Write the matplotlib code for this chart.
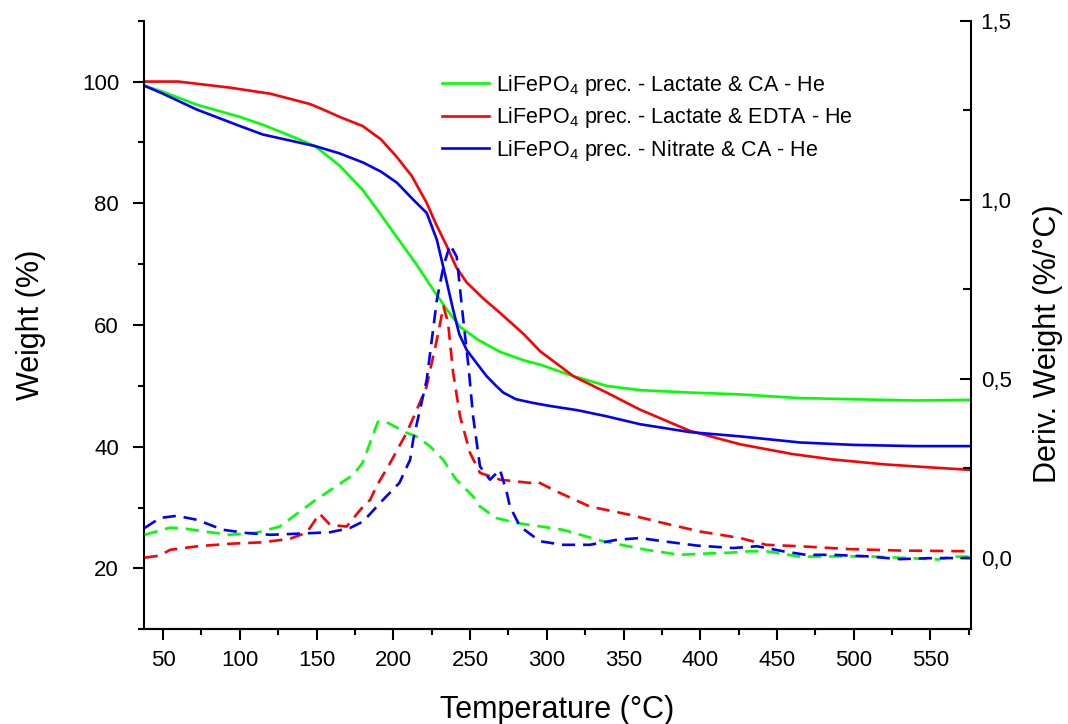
import matplotlib
matplotlib.use("Agg")
import matplotlib.pyplot as plt
from matplotlib.ticker import MultipleLocator, FuncFormatter

plt.rcParams['font.family'] = ['Liberation Sans', 'DejaVu Sans']
plt.rcParams['mathtext.fontset'] = 'custom'
plt.rcParams['mathtext.rm'] = 'Liberation Sans'
plt.rcParams['mathtext.it'] = 'Liberation Sans:italic'

# ---- data: weight curves (solid) ----
t_w_green = [38, 50, 72, 100, 115, 130, 149, 165, 180, 190, 202.7, 215, 226, 235, 243.5, 255,
             269.5, 285, 295.6, 317.3, 339, 360.7, 393.3, 426, 464, 500, 540, 576]
w_green = [99.3, 98.3, 96.2, 94.2, 92.9, 91.4, 89.4, 86.2, 82.2, 78.8, 74.3, 70.0, 65.8, 62.5, 59.7, 57.6,
           55.6, 54.2, 53.5, 51.6, 50.0, 49.3, 48.9, 48.6, 48.0, 47.8, 47.6, 47.7]

t_w_red = [38, 60, 93.6, 120, 145.8, 153.4, 165, 180, 192, 202, 212, 221.7, 228, 234.8, 241, 247.8,
           258, 269.5, 285, 295.6, 317.3, 339, 360.7, 393.3, 426, 460, 486.5, 520, 550, 576]
w_red = [100.0, 100.0, 99.0, 98.0, 96.3, 95.5, 94.2, 92.7, 90.5, 87.7, 84.5, 80.1, 76.5, 73.0, 69.5, 67.0,
         64.5, 62.0, 58.5, 55.7, 51.6, 48.9, 46.1, 42.6, 40.4, 38.8, 37.9, 37.1, 36.6, 36.2]

t_w_blue = [38, 50, 72, 100, 115, 149, 165, 180.3, 192, 202.3, 213, 221.8, 228.4, 234, 239, 243, 247.8,
            255, 260.8, 267, 271.6, 280, 291, 302, 320, 339, 360.7, 393.3, 426, 465, 500, 540, 576]
w_blue = [99.3, 98.0, 95.4, 92.7, 91.3, 89.4, 88.2, 86.7, 85.2, 83.4, 80.6, 78.4, 74.0, 68.0, 62.5, 58.5, 55.9,
          53.5, 51.6, 50.0, 48.9, 47.8, 47.2, 46.7, 46.0, 45.0, 43.7, 42.4, 41.7, 40.7, 40.3, 40.1, 40.1]

# ---- data: derivative curves (dashed) ----
t_d_green = [38, 54.6, 63, 82.6, 93.6, 111, 126, 148, 174, 180, 190, 195, 208.7, 215, 224, 232.4, 241,
             252, 256.5, 267, 280.4, 310.6, 336.6, 365, 386.8, 400, 419, 432, 443, 465, 508, 530, 555, 565, 576]
d_green = [0.064, 0.084, 0.082, 0.070, 0.064, 0.070, 0.087, 0.157, 0.232, 0.265, 0.38, 0.38, 0.349, 0.339,
           0.311, 0.274, 0.218, 0.171, 0.143, 0.111, 0.097, 0.078, 0.046, 0.022, 0.008, 0.011, 0.014, 0.018,
           0.018, 0.003, 0.004, 0.0, -0.005, 0.003, 0.003]

t_d_red = [38, 48, 54.6, 72.6, 93.6, 115, 132.7, 143.6, 152, 158.8, 169.6, 180.3, 185, 189, 198, 208.7,
           215, 221.7, 228.4, 232.7, 235.7, 239, 243.5, 250, 256.5, 269.5, 289, 293.5, 306.5, 328, 354,
           375.7, 400, 426, 443, 465, 497.6, 530, 576]
d_red = [0.0, 0.006, 0.022, 0.032, 0.039, 0.043, 0.053, 0.07, 0.123, 0.092, 0.087, 0.143, 0.162, 0.199,
         0.265, 0.349, 0.41, 0.478, 0.609, 0.702, 0.656, 0.517, 0.395, 0.293, 0.237, 0.218, 0.209, 0.213,
         0.185, 0.143, 0.12, 0.097, 0.073, 0.055, 0.036, 0.032, 0.024, 0.02, 0.018]

t_d_blue = [38, 48, 59, 72, 89, 104.5, 120, 137, 158.8, 171.8, 180.3, 193.4, 204, 211, 213, 221.8, 228.4,
            232.7, 237, 241.3, 245.6, 249, 252, 256.5, 263, 269.5, 274, 276, 282.6, 295.6, 310.6, 328,
            345.6, 360.7, 375.7, 397.6, 421.5, 437, 454, 469, 486.5, 508, 530, 551.6, 576]
d_blue = [0.083, 0.111, 0.117, 0.106, 0.078, 0.069, 0.064, 0.067, 0.071, 0.083, 0.101, 0.162, 0.209, 0.274,
          0.33, 0.497, 0.72, 0.814, 0.874, 0.841, 0.665, 0.534, 0.395, 0.255, 0.218, 0.246, 0.181, 0.143,
          0.087, 0.046, 0.036, 0.036, 0.05, 0.055, 0.046, 0.034, 0.027, 0.032, 0.018, 0.008, 0.008, 0.004,
          -0.004, -0.001, -0.001]

labels = [r'LiFePO$_\mathregular{4}$ prec. - Lactate & CA - He',
          r'LiFePO$_\mathregular{4}$ prec. - Lactate & EDTA - He',
          r'LiFePO$_\mathregular{4}$ prec. - Nitrate & CA - He']
colors = ['#00ff00', '#ff0000', '#0000ff']

fig = plt.figure(figsize=(10.68, 7.24), dpi=100)
ax = fig.add_axes([144 / 1068, 1 - 629.3 / 724, (971 - 144) / 1068, (629.3 - 20.7) / 724])
ax2 = ax.twinx()

lw = 1.9
lg, = ax.plot(t_w_green, w_green, color=colors[0], lw=lw)
lr, = ax.plot(t_w_red, w_red, color=colors[1], lw=lw)
lb, = ax.plot(t_w_blue, w_blue, color=colors[2], lw=lw)

dash = (5, 3)
ax2.plot(t_d_green, d_green, color=colors[0], lw=lw, dashes=dash)
ax2.plot(t_d_red, d_red, color=colors[1], lw=lw, dashes=dash)
ax2.plot(t_d_blue, d_blue, color=colors[2], lw=lw, dashes=dash)

ax.set_xlim(37.6, 576.4)
ax.set_ylim(10, 110)
ax2.set_ylim(-0.2, 1.5)

ax.xaxis.set_major_locator(MultipleLocator(50))
ax.xaxis.set_minor_locator(MultipleLocator(25))
ax.yaxis.set_major_locator(MultipleLocator(20))
ax.yaxis.set_minor_locator(MultipleLocator(10))
ax2.yaxis.set_major_locator(MultipleLocator(0.5))
ax2.yaxis.set_minor_locator(MultipleLocator(0.25))
ax2.yaxis.set_major_formatter(FuncFormatter(lambda v, p: f"{v:.1f}".replace('.', ',')))

for a in (ax, ax2):
    a.spines['top'].set_visible(False)
    for s in a.spines.values():
        s.set_linewidth(1.5)
ax2.spines['left'].set_visible(False)
ax.spines['right'].set_visible(False)

ax.tick_params(axis='x', which='major', direction='out', length=8, width=1.5, labelsize=16, pad=7)
ax.tick_params(axis='x', which='minor', direction='out', length=4.5, width=1.5)
ax.tick_params(axis='y', which='major', direction='out', length=8, width=1.5, labelsize=16, pad=10)
ax.tick_params(axis='y', which='minor', direction='out', length=4.5, width=1.5)
ax2.tick_params(axis='y', which='major', direction='in', length=8, width=1.5, labelsize=16, pad=7)
ax2.tick_params(axis='y', which='minor', direction='in', length=5.5, width=1.5)

ax.set_xlabel('Temperature (°C)', fontsize=22, labelpad=17)
ax.set_ylabel('Weight (%)', fontsize=22, labelpad=26)
ax2.set_ylabel('Deriv. Weight (%/°C)', fontsize=22)
ax2.yaxis.set_label_coords(1.075, 0.469)

leg = ax2.legend([lg, lr, lb], labels, loc='upper left', bbox_to_anchor=(0.35, 0.929),
                 frameon=False, fontsize=15.5, handlelength=2.2, handletextpad=0.3,
                 labelspacing=0.35, borderaxespad=0.0)

fig.savefig('out.png', dpi=100)
